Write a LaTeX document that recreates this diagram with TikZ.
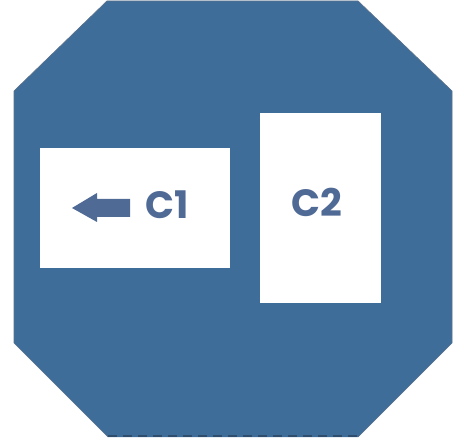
\documentclass[tikz,border=0pt]{standalone}
\usepackage{fontspec}
\setmainfont{Poppins}
\usetikzlibrary{positioning}
\definecolor{hullblue}{HTML}{3E6D99}
\definecolor{hulledge}{HTML}{2F4E6E}
\definecolor{labelblue}{HTML}{506A96}

\begin{document}
\begin{tikzpicture}[x=1pt,y=-1pt,
    hull/.style={fill=hullblue,draw=none},
    rim/.style={draw=hulledge!80,line width=0.7pt,line join=miter},
    room/.style={fill=white,draw=none,inner sep=0pt},
    tag/.style={text=labelblue,font=\fontsize{38}{38}\selectfont\bfseries,inner sep=0pt},
    cut/.style={draw=hulledge,dash pattern=on 9pt off 6pt,line width=1.1pt}
]
\useasboundingbox (0,0) rectangle (464,441);
\fill[hull] (107,1)--(358,1)--(452,91)--(452,343)--(358,437)--(108,437)--(14,343)--(14,91)--cycle;
\draw[rim] (358,437)--(452,343)--(452,91)--(358,1)--(107,1)--(14,91)--(14,343)--(108,437);
\coordinate (cutL) at (108,436);
\coordinate (cutR) at (358,436);
\draw[cut] (cutL)--(cutR);
\node[room,minimum width=190pt,minimum height=120pt] (c1box) at (135,208) {};
\node[room,minimum width=121pt,minimum height=190pt] (c2box) at (320.5,208) {};
\node[tag] (c1) at (167,205) {C1};
\node[tag] (c2) at (317,202) {C2};
\fill[labelblue] (72,208)--(97,193)--(97,199)--(130,199)--(130,217)--(97,217)--(97,222)--cycle;
\end{tikzpicture}
\end{document}
